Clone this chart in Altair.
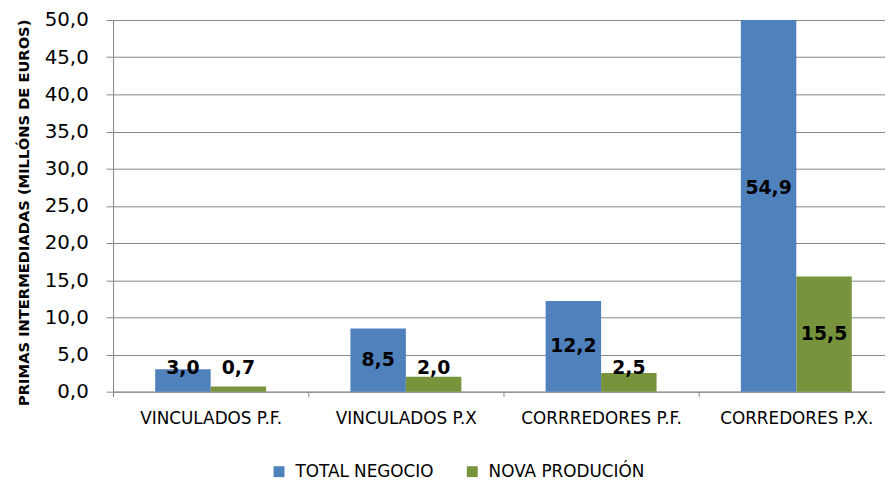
import altair as alt
import pandas as pd

categories = ["VINCULADOS P.F.", "VINCULADOS P.X", "CORRREDORES P.F.", "CORREDORES P.X."]
series = ["TOTAL NEGOCIO", "NOVA PRODUCIÓN"]
total_negocio = [3.0, 8.5, 12.2, 54.9]
nova_producion = [0.7, 2.0, 2.5, 15.5]
y_ticks = [0, 5, 10, 15, 20, 25, 30, 35, 40, 45, 50]
colors = ["#4F81BD", "#77933C"]

rows = []
for c, t, n in zip(categories, total_negocio, nova_producion):
    rows.append({"cat": c, "series": series[0], "value": t})
    rows.append({"cat": c, "series": series[1], "value": n})
df = pd.DataFrame(rows)

FONT = "DejaVu Sans"
GRID = "#868686"

x_enc = alt.X(
    "cat:N",
    sort=categories,
    scale=alt.Scale(paddingInner=0, paddingOuter=0),
    axis=alt.Axis(
        title=None, labelAngle=0, tickBand="extent", grid=False,
        domain=True, domainColor=GRID, tickColor=GRID, tickSize=5,
        labelPadding=14, labelFont=FONT, labelFontSize=17, labelColor="#000000",
    ),
)
xoff_enc = alt.XOffset("series:N", sort=series,
                       scale=alt.Scale(paddingInner=0, paddingOuter=0.76))
y_enc = alt.Y(
    "value:Q",
    scale=alt.Scale(domain=[0, 50], clamp=True, nice=False),
    axis=alt.Axis(
        values=y_ticks,
        labelExpr="replace(format(datum.value, '.1f'), '.', ',')",
        title="PRIMAS INTERMEDIADAS (MILLÓNS DE EUROS)",
        titleFont=FONT, titleFontSize=14.8, titleFontWeight="bold", titleColor="#000000",
        titlePadding=13, titleY=194,
        labelFont=FONT, labelFontSize=20, labelColor="#000000", labelPadding=18,
        labelOverlap=False,
        tickSize=7, tickColor=GRID, domainColor=GRID, gridColor=GRID, grid=True,
    ),
)

base = alt.Chart(df).encode(x=x_enc, xOffset=xoff_enc, y=y_enc)

bars = base.mark_bar().encode(
    color=alt.Color(
        "series:N",
        sort=series,
        scale=alt.Scale(domain=series, range=colors),
        legend=alt.Legend(
            title=None, orient="none", direction="horizontal",
            legendX=159, legendY=447,
            symbolType="square", symbolSize=121, symbolStrokeWidth=0,
            labelFont=FONT, labelFontSize=17, labelColor="#000000",
            labelOffset=8, columnPadding=30, labelLimit=0,
        ),
    ),
)

labels = (
    base.transform_calculate(label="replace(format(datum.value, '.1f'), '.', ',')")
    .transform_calculate(value="max(datum.value / 2, 3.2)")
    .mark_text(font=FONT, fontSize=19, fontWeight="bold", color="#000000", baseline="middle")
    .encode(text="label:N")
)

chart = alt.layer(bars, labels).properties(
    width=788,
    height=375,
    autosize=alt.AutoSizeParams(type="none"),
    padding={"left": 106, "top": 10, "right": -9, "bottom": 87},
).configure_view(stroke=None)

chart.save("out.html", embed_options={"renderer": "svg", "actions": False})
